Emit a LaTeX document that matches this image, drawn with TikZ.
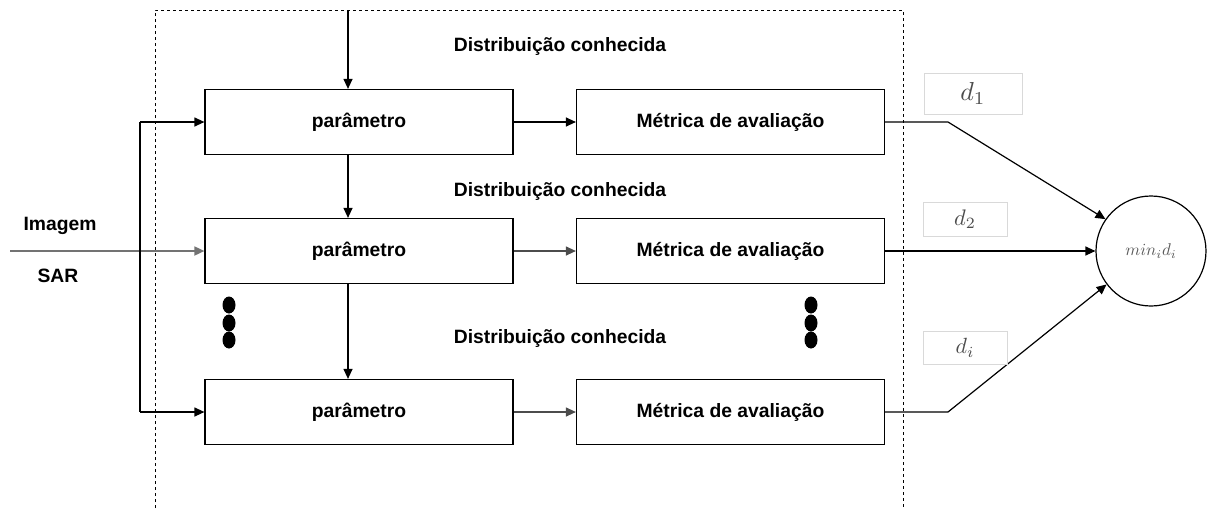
\documentclass[tikz,border=0pt]{standalone}
\usepackage{graphicx}
\usepackage{fontspec}
\setsansfont{Liberation Sans}
\usetikzlibrary{arrows.meta,shapes.geometric}
\begin{document}
\begin{tikzpicture}[x=1pt,y=-1pt,
  blk/.style={draw, line width=1.2pt, minimum width=308pt, minimum height=65pt, font=\sffamily\bfseries\fontsize{19.3}{22}\selectfont, inner sep=0pt},
  lbl/.style={font=\sffamily\bfseries\fontsize{19.3}{22}\selectfont, inner sep=0pt},
  con/.style={line width=1.2pt, -{Triangle[length=10pt,width=9pt]}},
  dbox/.style={draw=black!15, line width=0.8pt, text=black!70, inner sep=0pt},
  dot/.style={ellipse, fill=black, minimum width=13pt, minimum height=17pt, inner sep=0pt}]
\useasboundingbox (0,0) rectangle (1208,509);
% dashed frame
\draw[dashed, line width=0.9pt] (155,520) -- (155,10) -- (903,10) -- (903,520);
% blocks
\node[blk] (p1) at (359,122) {parâmetro};
\node[blk] (m1) at (730.5,122) {Métrica de avaliação};
\node[blk] (p2) at (359,251) {parâmetro};
\node[blk] (m2) at (730.5,251) {Métrica de avaliação};
\node[blk] (p3) at (359,412) {parâmetro};
\node[blk] (m3) at (730.5,412) {Métrica de avaliação};
% distribution labels
\node[lbl] (t1) at (560,47) {Distribuição conhecida};
\node[lbl] (t2) at (560,192) {Distribuição conhecida};
\node[lbl] (t3) at (560,339) {Distribuição conhecida};
\coordinate (top) at (348,10);
\draw[con] (top) -- (top |- p1.north);
\draw[con] (p1.south -| top) -- (p2.north -| top);
\draw[con] (p2.south -| top) -- (p3.north -| top);
\draw[con] (p1) -- (m1);
\draw[con, black!70] (p2) -- (m2);
\draw[con, black!70] (p3) -- (m3);
% input
\node[lbl] (img) at (60,226) {Imagem};
\node[lbl] (sar) at (58,276) {SAR};
\coordinate (in) at (10,251);
\coordinate (br1) at (140,122);
\coordinate (br3) at (140,412);
\draw[con, black!55, line width=1.7pt] (in) -- (p2);
\draw[line width=1.2pt] (br1) -- (br3);
\draw[con] (br1) -- (p1);
\draw[con] (br3) -- (p3);
% dots
\foreach \y [count=\k] in {305,323,340}{
  \node[dot] (dl\k) at (229,\y) {};
  \node[dot] (dr\k) at (811,\y) {};
}
% min node
\node[draw, circle, line width=1.2pt, minimum size=110pt, inner sep=0pt, text=black!65] (mn) at (1151,251) {\scalebox{1.7}{$min_id_i$}};
\coordinate (k1) at (948,122);
\coordinate (k3) at (948,412);
\draw[con] (m1.east) -- (k1) -- (mn.145);
\draw[con] (m2.east) -- (mn.west);
\draw[con] (m3.east) -- (k3) -- (mn.217);
% d labels
\node[dbox, minimum width=98pt, minimum height=41pt] (d1) at (973,93.5) {\scalebox{2.6}{$d_1$}};
\node[dbox, minimum width=84pt, minimum height=34pt] (d2) at (965,219) {\scalebox{2.25}{$d_2$}};
\node[dbox, minimum width=84pt, minimum height=33pt] (di) at (965,348) {\scalebox{2.2}{$d_i$}};
\end{tikzpicture}
\end{document}
